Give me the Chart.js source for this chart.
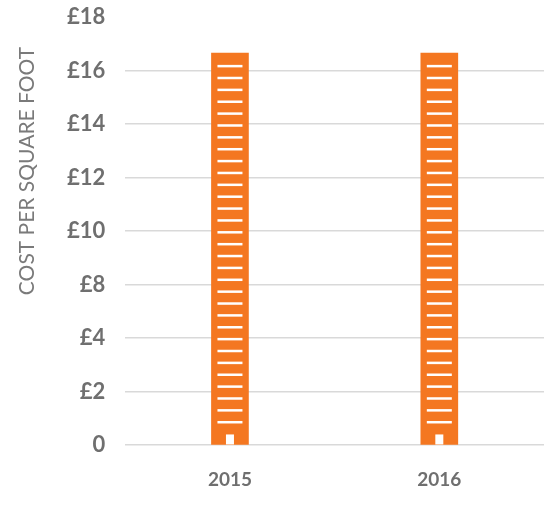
<!DOCTYPE html>
<html lang="en">
<head>
  <meta charset="UTF-8" />
  <title>Cost per square foot</title>
  <script src="https://cdn.jsdelivr.net/npm/chart.js"></script>
  <style>
    body {
      margin: 0;
      background: #ffffff;
    }

    .wrap {
      width: 544px;
      height: 516px;
    }
  </style>
</head>
<body>
  <div class="wrap">
    <canvas id="costChart"></canvas>
  </div>

  <script>
    // The axis steps evenly through these values (there is no £6 step)
    const tickValues = [0, 2, 4, 8, 10, 12, 14, 16, 18];
    const tickLabels = ['0', '£2', '£4', '£8', '£10', '£12', '£14', '£16', '£18'];

    const years = ['2015', '2016'];
    const costPerSqFt = [16.65, 16.65];
    const axisTitle = 'COST PER SQUARE FOOT';

    const ORANGE = '#f47721';
    const GREY = '#6f6f6f';

    // pounds -> position on the stepped axis
    function toAxis(v) {
      for (let i = 1; i < tickValues.length; i++) {
        if (v <= tickValues[i]) {
          const lo = tickValues[i - 1], hi = tickValues[i];
          return i - 1 + (v - lo) / (hi - lo);
        }
      }
      return tickValues.length - 1;
    }

    // white floor lines and a door on each bar, so it reads as a tower block
    const buildingDetail = {
      id: 'buildingDetail',
      afterDatasetsDraw(chart) {
        const ctx = chart.ctx;
        chart.getDatasetMeta(0).data.forEach(bar => {
          const { x, y, base, width } = bar.getProps(['x', 'y', 'base', 'width'], true);
          const left = x - width / 2;
          ctx.save();
          ctx.fillStyle = '#ffffff';
          for (let fy = y + 13; fy <= base - 22; fy += 11.87) {
            ctx.fillRect(left + 6, fy - 1.25, width - 12, 2.5);
          }
          ctx.fillRect(x - 4, base - 10, 8, 10);
          ctx.restore();
        });
      }
    };

    // y title sits higher than the axis middle, so draw it ourselves
    const sideTitle = {
      id: 'sideTitle',
      afterDraw(chart) {
        const ctx = chart.ctx;
        const area = chart.chartArea;
        ctx.save();
        ctx.translate(27, area.top + 154);
        ctx.rotate(-Math.PI / 2);
        ctx.font = '21px Lato';
        ctx.fillStyle = '#7a7a7a';
        ctx.textAlign = 'center';
        ctx.textBaseline = 'middle';
        ctx.fillText(axisTitle, 0, 0);
        ctx.restore();
      }
    };

    new Chart(document.getElementById('costChart'), {
      type: 'bar',
      data: {
        labels: years,
        datasets: [{
          data: costPerSqFt.map(toAxis),
          backgroundColor: ORANGE,
          borderWidth: 0,
          barThickness: 37
        }]
      },
      options: {
        responsive: true,
        maintainAspectRatio: false,
        animation: false,
        layout: { padding: { top: 0, left: 47, right: 0, bottom: 10 } },
        plugins: {
          legend: { display: false },
          tooltip: { enabled: false }
        },
        scales: {
          x: {
            grid: { display: false },
            border: { display: false },
            ticks: {
              color: GREY,
              padding: 15,
              font: { family: 'Lato', size: 19, weight: 'bold' }
            }
          },
          y: {
            min: 0,
            max: tickValues.length - 1,
            border: { display: false },
            grid: {
              color: c => c.tick.value === tickValues.length - 1 ? 'rgba(0,0,0,0)' : '#d9d9d9',
              lineWidth: 1.5,
              drawTicks: false
            },
            ticks: {
              stepSize: 1,
              padding: 20,
              color: GREY,
              font: { family: 'Lato', size: 22, weight: 'bold' },
              callback: v => tickLabels[v]
            },
            afterFit(scale) {
              scale.paddingTop = 17;
              scale.paddingBottom = 10;
            }
          }
        }
      },
      plugins: [buildingDetail, sideTitle]
    });
  </script>
</body>
</html>
